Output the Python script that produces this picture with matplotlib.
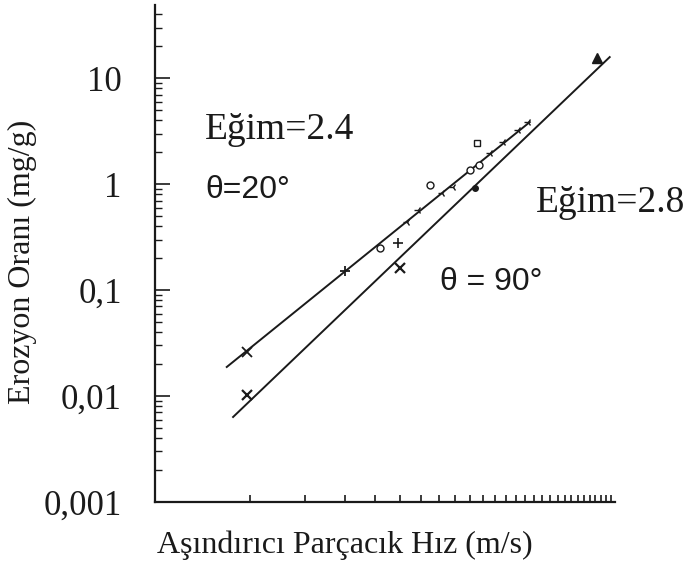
import numpy as np
import matplotlib
matplotlib.use("Agg")
import matplotlib.pyplot as plt
from matplotlib.ticker import FixedLocator, LogLocator, NullFormatter, NullLocator

# theta = 20 deg, fitted line (slope 2.4) and measured points
line20_v = [16.9, 155]
line20_e = [0.0188, 3.85]
p20_x_v, p20_x_e = [19.6], [0.026]
p20_plus_v, p20_plus_e = [40.1], [0.151]
p20_circ_v = [51.8, 74.6, 99.8, 107]
p20_circ_e = [0.249, 0.98, 1.36, 1.51]
p20_tri_v = [63.0, 68.4, 81.3, 88.2, 115.8, 127, 142, 153]
p20_tri_e = [0.44, 0.57, 0.82, 0.94, 1.96, 2.49, 3.23, 3.85]
p20_sq_v, p20_sq_e = [105], [2.44]

# theta = 90 deg, fitted line (slope 2.8) and measured points
line90_v = [17.7, 278]
line90_e = [0.00634, 15.8]
p90_x_v, p90_x_e = [19.6, 60.0], [0.0102, 0.161]
p90_plus_v, p90_plus_e = [59.0], [0.277]
p90_dot_v, p90_dot_e = [103.9], [0.917]
p90_tri_v, p90_tri_e = [253], [15.4]

ytick_vals = [0.001, 0.01, 0.1, 1, 10]
ytick_labels = ["0,001", "0,01", "0,1", "1", "10"]
xtick_vals = list(range(20, 290, 10))

plt.rcParams['font.family'] = ['Liberation Serif', 'DejaVu Serif']

fig = plt.figure(figsize=(6.95, 5.63), dpi=100)
ax = fig.add_axes([155/695, 1-502/563, 460/695, 497/563])
ax.set_xscale('log')
ax.set_yscale('log')
ax.set_xlim(10, 289)
ax.set_ylim(0.001, 49)

k = '#1a1a1a'
ax.plot(line20_v, line20_e, '-', color=k, lw=1.4)
ax.plot(line90_v, line90_e, '-', color=k, lw=1.4)

ax.plot(p20_x_v, p20_x_e, 'x', color=k, ms=7, mew=1.3)
ax.plot(p20_plus_v, p20_plus_e, '+', color=k, ms=7, mew=1.3)
ax.plot(p20_circ_v, p20_circ_e, 'o', mfc='white', mec=k, ms=5, mew=1.0)
ax.plot(p20_tri_v, p20_tri_e, '3', color=k, ms=6, mew=1.0)
ax.plot(p20_sq_v, p20_sq_e, 's', mfc='white', mec=k, ms=4, mew=1.0)

ax.plot(p90_x_v, p90_x_e, 'x', color=k, ms=7, mew=1.6)
ax.plot(p90_plus_v, p90_plus_e, '+', color=k, ms=7, mew=1.2)
ax.plot(p90_dot_v, p90_dot_e, 'o', color=k, ms=4)
ax.plot(p90_tri_v, p90_tri_e, '^', color=k, ms=7)

for s in ['top', 'right']:
    ax.spines[s].set_visible(False)
for s in ['left', 'bottom']:
    ax.spines[s].set_linewidth(1.6)
    ax.spines[s].set_color(k)

ax.yaxis.set_major_locator(FixedLocator(ytick_vals))
ax.set_yticklabels(ytick_labels)
ax.yaxis.set_minor_locator(LogLocator(base=10, subs=np.arange(2, 10)))
ax.yaxis.set_minor_formatter(NullFormatter())
ax.tick_params(axis='y', which='major', direction='in', length=11, width=1.2,
               labelsize=25, pad=24, colors=k)
ax.tick_params(axis='y', which='minor', direction='in', length=5, width=1.0, colors=k)

ax.xaxis.set_major_locator(FixedLocator(xtick_vals))
ax.xaxis.set_minor_locator(NullLocator())
ax.xaxis.set_major_formatter(NullFormatter())
ax.tick_params(axis='x', which='major', direction='in', length=5, width=1.2, colors=k)

fig.text(205/695, 1-130/563, "Eğim=2.4", fontsize=27, va='center', ha='left', color=k)
fig.text(205/695, 1-190/563, "θ=20°", fontsize=23, va='center', ha='left', color=k,
         family=['Liberation Sans', 'DejaVu Sans'])
fig.text(536/695, 1-203/563, "Eğim=2.8", fontsize=27, va='center', ha='left', color=k)
fig.text(440/695, 1-282/563, "θ = 90°", fontsize=23, va='center', ha='left', color=k,
         family=['Liberation Sans', 'DejaVu Sans'])

fig.text(345/695, 1-545/563, "Aşındırıcı Parçacık Hız (m/s)", fontsize=23,
         ha='center', va='center', color=k)
fig.text(22/695, 1-262/563, "Erozyon Oranı (mg/g)", fontsize=23, rotation=90,
         ha='center', va='center', color=k)

fig.savefig("out.png", dpi=100)
